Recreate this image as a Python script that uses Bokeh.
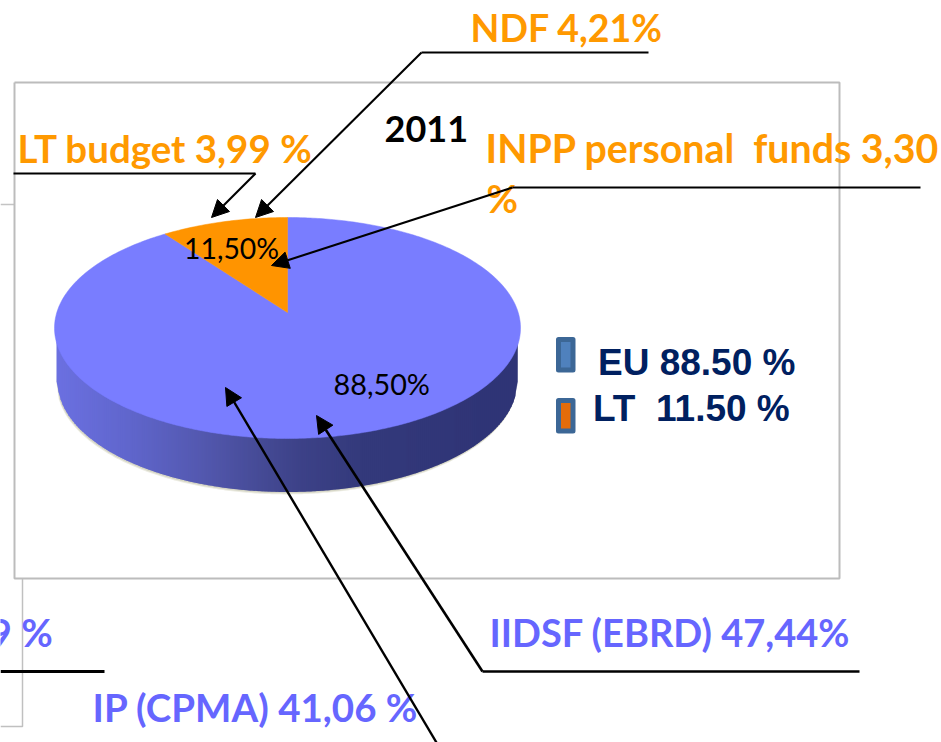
import numpy as np
from bokeh.plotting import figure
from bokeh.models import Range1d, Arrow, NormalHead
from bokeh.core.properties import value
from bokeh.embed import file_html
from bokeh.resources import INLINE

# --- chart values ---
title = "2011"
shares = [88.5, 11.5]
share_labels = ["88,50%", "11,50%"]
legend_labels = ["EU 88.50 %", "LT\u00a0 11.50 %"]
orange_sources = ["LT budget 3,99 %", "NDF 4,21%", "INPP personal\u00a0 funds 3,30", "%"]
blue_sources = ["IIDSF (EBRD) 47,44%", "IP (CPMA) 41,06 %", "9 %"]

W, H = 941, 742
p = figure(width=W, height=H, x_range=Range1d(0, W), y_range=Range1d(H, 0),
           output_backend="svg", toolbar_location=None, min_border=0,
           background_fill_color="white", border_fill_color="white")
p.axis.visible = False
p.grid.visible = False
p.outline_line_color = None

GRAY = "#bcbcbc"
# frames behind the chart
p.line([0, 14], [204, 204], line_color="#c4c4c4", line_width=1.5)
p.line([22, 22, 0], [578, 726, 726], line_color="#c0c0c0", line_width=1.5)
p.line([14, 839, 839, 14, 14], [82, 82, 578, 578, 82], line_color=GRAY, line_width=2)

# --- pie geometry ---
cx, cy, rx, ry = 287.0, 327.5, 233.0, 110.5
apex_y = 312.0
cy2, rx2, ry2 = 381.0, 230.0, 110.5
persp = 0.70


def rim(theta):
    t = np.arctan2(persp * np.sin(theta), np.cos(theta))
    return cx - rx * np.sin(t), cy - ry * np.cos(t)


xs_grid = np.arange(56.0, 517.0, 2.0)
stops_x = [54, 60, 130, 200, 260, 300, 360, 500, 520]
stops_r = [0x6b, 0x6b, 0x60, 0x54, 0x46, 0x3d, 0x34, 0x2f, 0x2f]
stops_g = [0x70, 0x70, 0x66, 0x59, 0x4b, 0x42, 0x3a, 0x34, 0x34]
stops_b = [0xe0, 0xe0, 0xcc, 0xb0, 0x96, 0x88, 0x7c, 0x76, 0x76]


def lower(x, c, a, b):
    return c + b * np.sqrt(np.clip(1 - ((x - cx) / a) ** 2, 0, 1))


# soft shadow under the side wall
sx = np.linspace(cx - rx2, cx + rx2, 200)
sy = lower(sx, cy2, rx2, ry2)
for off, col in [(2.4, "#ecece2"), (1.4, "#d6d6c6")]:
    p.patch(np.r_[sx - off * 0.4, sx[::-1] + off * 0.4], np.r_[sy + off, np.full(200, cy)[::-1]],
            fill_color=col, line_color=None)

# side wall as narrow overlapping vertical strips
sxs, sys, scol = [], [], []
for x0 in xs_grid:
    x1 = x0 + 3.0
    mx = x0 + 1.0
    x1c = min(x1, cx + rx2)
    y_top0, y_top1 = lower(x0, cy, rx, ry) - 2, lower(x1c, cy, rx, ry) - 2
    y_bot0, y_bot1 = lower(x0, cy2, rx2, ry2), lower(x1c, cy2, rx2, ry2)
    sxs.append([x0, x1c, x1c, x0])
    sys.append([y_top0, y_top1, y_bot1, y_bot0])
    r, g, b = (int(np.interp(mx, stops_x, s)) for s in (stops_r, stops_g, stops_b))
    scol.append(f"#{r:02x}{g:02x}{b:02x}")
p.patches(sxs, sys, fill_color=scol, line_color=None)

# top faces, driven by the shares
total = sum(shares)
split = 2 * np.pi * shares[1] / total
th_blue = np.linspace(split, 2 * np.pi, 360)
th_orange = np.linspace(0, split, 40)
bx, by = rim(th_blue)
ox, oy = rim(th_orange)
p.patch(np.r_[cx, bx], np.r_[apex_y, by], fill_color="#797dff", line_color="#797dff", line_width=0.5)
p.patch(np.r_[cx, ox], np.r_[apex_y, oy], fill_color="#ff9400", line_color="#ff9400", line_width=0.5)

CAL = value("Lato")


def txt(x, y, s, color, size, style="bold", font=CAL):
    # the text glyph's alphabetic anchor sits about a third of the size above the baseline
    p.text([x], [y - 0.33 * size], text=[s], text_color=color, text_font=font, text_font_size=f"{size}px",
           text_font_style=style, text_baseline="alphabetic", text_align="left")


ORANGE, BLUE = "#ff9900", "#6666ff"
S = 38.5
txt(384, 140, title, "#000000", 36)
txt(17, 160, orange_sources[0], ORANGE, S)
txt(470, 39, orange_sources[1], ORANGE, 37.5)
txt(485, 160, orange_sources[2], ORANGE, 39.3)
txt(486, 210, orange_sources[3], ORANGE, S)
txt(489, 644, blue_sources[0], BLUE, 38)
txt(92, 719, blue_sources[1], BLUE, S)
txt(-11, 644, blue_sources[2], BLUE, S)
txt(183.5, 257, share_labels[1], "#000000", 28.4, "normal")
txt(333, 393, share_labels[0], "#000000", 28.8, "normal")

# legend
ARIAL = value("Liberation Sans")
p.quad(left=[558, 558], right=[572.5, 572.5], top=[339, 400], bottom=[369.5, 430.5],
       fill_color=["#4f81bd", "#e46c0a"], line_color="#3c6796", line_width=5, line_join="round")
txt(597.5, 374, legend_labels[0], "#002060", 37, "bold", ARIAL)
txt(592.5, 420, legend_labels[1], "#002060", 37, "bold", ARIAL)

# leader lines
head = dict(size=17, fill_color="black", line_color="black", line_width=1)


def leader(xs, ys, w=2.0):
    if len(xs) > 2:
        p.line(xs[:-1], ys[:-1], line_color="black", line_width=w)
    p.add_layout(Arrow(end=NormalHead(**head), x_start=xs[-2], y_start=ys[-2], x_end=xs[-1], y_end=ys[-1],
                       line_color="black", line_width=w))


leader([13, 255, 211], [173, 173, 217], 2.1)
leader([648, 421, 255], [52, 52, 217], 2.1)
leader([920, 512, 271], [187, 187, 265], 2.1)
leader([859, 482, 316], [671, 671, 415], 2.6)
leader([436, 225], [742, 387], 2.4)
p.line([0, 104], [671, 671], line_color="black", line_width=2.8)

open("out.html", "w").write(file_html(p, INLINE))
